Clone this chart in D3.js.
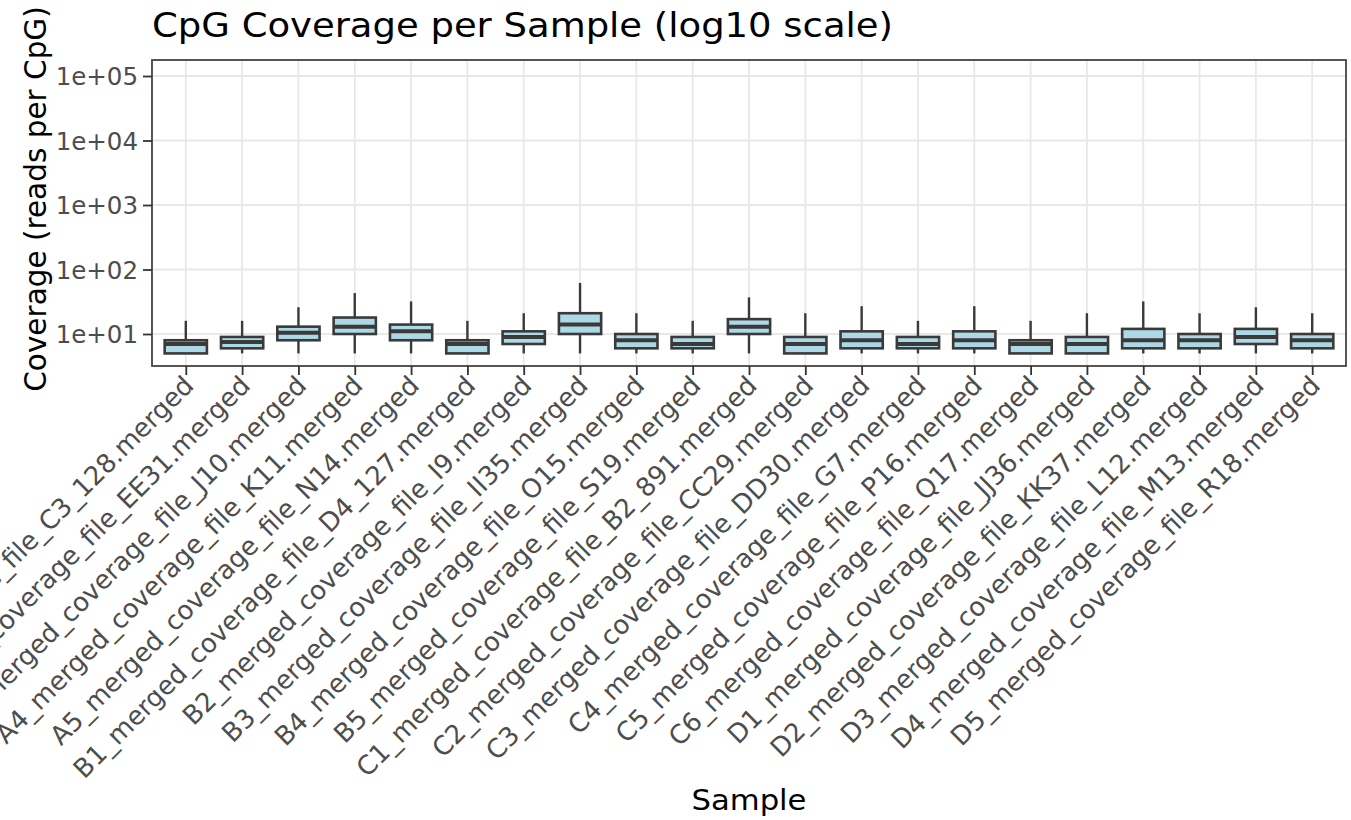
<!DOCTYPE html>
<html>
<head>
<meta charset="utf-8">
<script src="https://cdn.jsdelivr.net/npm/d3@7"></script>
<style>
  html, body { margin: 0; padding: 0; background: #fff; }
  svg { display: block; }
  text { font-family: "DejaVu Sans", sans-serif; }
</style>
</head>
<body>
<svg id="chart" width="1351" height="820"></svg>
<script>
// ---- data ----
const samples = [
  "A1_merged_coverage_file_C3_128.merged",
  "A2_merged_coverage_file_EE31.merged",
  "A3_merged_coverage_file_J10.merged",
  "A4_merged_coverage_file_K11.merged",
  "A5_merged_coverage_file_N14.merged",
  "B1_merged_coverage_file_D4_127.merged",
  "B2_merged_coverage_file_I9.merged",
  "B3_merged_coverage_file_II35.merged",
  "B4_merged_coverage_file_O15.merged",
  "B5_merged_coverage_file_S19.merged",
  "C1_merged_coverage_file_B2_891.merged",
  "C2_merged_coverage_file_CC29.merged",
  "C3_merged_coverage_file_DD30.merged",
  "C4_merged_coverage_file_G7.merged",
  "C5_merged_coverage_file_P16.merged",
  "C6_merged_coverage_file_Q17.merged",
  "D1_merged_coverage_file_JJ36.merged",
  "D2_merged_coverage_file_KK37.merged",
  "D3_merged_coverage_file_L12.merged",
  "D4_merged_coverage_file_M13.merged",
  "D5_merged_coverage_file_R18.merged"
];
const whiskerLow  = [5, 5, 5, 5, 5, 5, 5, 5, 5, 5, 5, 5, 5, 5, 5, 5, 5, 5, 5, 5, 5];
const q1          = [5, 6, 8, 10, 8, 5, 7, 10, 6, 6, 10, 5, 6, 6, 6, 5, 5, 6, 6, 7, 6];
const median      = [7, 7.5, 10.5, 13, 11, 7, 9, 14, 8, 7, 13, 7, 8, 7, 8, 7, 7, 8, 8, 9, 8];
const q3          = [8, 9, 13, 18, 14, 8, 11, 21, 10, 9, 17, 9, 11, 9, 11, 8, 9, 12, 10, 12, 10];
const whiskerHigh = [16, 16, 26, 43, 32, 16, 21, 62, 21, 16, 37, 21, 27, 16, 27, 16, 21, 32, 21, 26, 21];
const yTicks = [1e1, 1e2, 1e3, 1e4, 1e5];
const yTickLabels = ["1e+01", "1e+02", "1e+03", "1e+04", "1e+05"];
const titleText = "CpG Coverage per Sample (log10 scale)";
const xTitle = "Sample";
const yTitle = "Coverage (reads per CpG)";

// ---- layout ----
const P = { left: 152, right: 1346, top: 60, bottom: 366 };
const svg = d3.select("#chart");

const x = d3.scalePoint().domain(samples).range([P.left, P.right]).padding(0.6);
const y = d3.scaleLog().domain([Math.pow(10, 0.504), Math.pow(10, 5.248)]).range([P.bottom, P.top]);

const boxes = samples.map((s, i) => ({
  s, lo: whiskerLow[i], q1: q1[i], med: median[i], q3: q3[i], hi: whiskerHigh[i]
}));

// grid
const grid = svg.append("g");
grid.selectAll("line.gy").data(yTicks).join("line")
  .attr("x1", P.left).attr("x2", P.right)
  .attr("y1", d => y(d)).attr("y2", d => y(d))
  .attr("stroke", "#e8e8e8").attr("stroke-width", 1.8);
grid.selectAll("line.gx").data(samples).join("line")
  .attr("y1", P.top).attr("y2", P.bottom)
  .attr("x1", d => x(d)).attr("x2", d => x(d))
  .attr("stroke", "#e8e8e8").attr("stroke-width", 1.8);

// boxes
const bw = x.step() * 0.75;
const g = svg.append("g");
const bg = g.selectAll("g.box").data(boxes).join("g");
bg.append("line")
  .attr("x1", d => x(d.s)).attr("x2", d => x(d.s))
  .attr("y1", d => y(d.hi)).attr("y2", d => y(d.q3))
  .attr("stroke", "#3a3a3a").attr("stroke-width", 2.4);
bg.append("line")
  .attr("x1", d => x(d.s)).attr("x2", d => x(d.s))
  .attr("y1", d => y(d.q1)).attr("y2", d => y(d.lo))
  .attr("stroke", "#3a3a3a").attr("stroke-width", 2.4);
bg.append("rect")
  .attr("x", d => x(d.s) - bw / 2).attr("width", bw)
  .attr("y", d => y(d.q3)).attr("height", d => y(d.q1) - y(d.q3))
  .attr("fill", "#add8e6").attr("stroke", "#3a3a3a").attr("stroke-width", 2.6);
bg.append("line")
  .attr("x1", d => x(d.s) - bw / 2).attr("x2", d => x(d.s) + bw / 2)
  .attr("y1", d => y(d.med)).attr("y2", d => y(d.med))
  .attr("stroke", "#3a3a3a").attr("stroke-width", 4);

// panel border
svg.append("rect")
  .attr("x", P.left).attr("y", P.top)
  .attr("width", P.right - P.left).attr("height", P.bottom - P.top)
  .attr("fill", "none").attr("stroke", "#444").attr("stroke-width", 1.8);

// y axis
const yAxis = svg.append("g").attr("transform", `translate(${P.left},0)`)
  .call(d3.axisLeft(y).tickValues(yTicks).tickFormat((d, i) => yTickLabels[i]).tickSize(9).tickPadding(5));
yAxis.select(".domain").remove();
yAxis.selectAll(".tick line").attr("stroke", "#333").attr("stroke-width", 1.8);
yAxis.selectAll(".tick text").attr("fill", "#4d4d4d").style("font-size", "24.5px")
  .style("font-family", "DejaVu Sans, sans-serif").attr("dy", "0.36em");

// x axis
const xAxis = svg.append("g").attr("transform", `translate(0,${P.bottom})`)
  .call(d3.axisBottom(x).tickSize(9).tickPadding(4));
xAxis.select(".domain").remove();
xAxis.selectAll(".tick line").attr("stroke", "#333").attr("stroke-width", 1.8);
xAxis.selectAll(".tick text")
  .attr("fill", "#4d4d4d").style("font-size", "26px").style("font-family", "DejaVu Sans, sans-serif")
  .attr("text-anchor", "end")
  .attr("y", 0).attr("dy", 0)
  .attr("transform", "translate(9,21) rotate(-45)");

// titles
svg.append("text").attr("x", P.left).attr("y", 37)
  .style("font-size", "33px").attr("fill", "#000")
  .attr("textLength", 741).attr("lengthAdjust", "spacingAndGlyphs")
  .text(titleText);
svg.append("text").attr("x", (P.left + P.right) / 2).attr("y", 810)
  .attr("text-anchor", "middle").style("font-size", "29px").attr("fill", "#000")
  .attr("textLength", 115).attr("lengthAdjust", "spacingAndGlyphs")
  .text(xTitle);
svg.append("text").attr("transform", `translate(46,199) rotate(-90)`)
  .attr("text-anchor", "middle").style("font-size", "29.5px").attr("fill", "#000").text(yTitle);
</script>
</body>
</html>
